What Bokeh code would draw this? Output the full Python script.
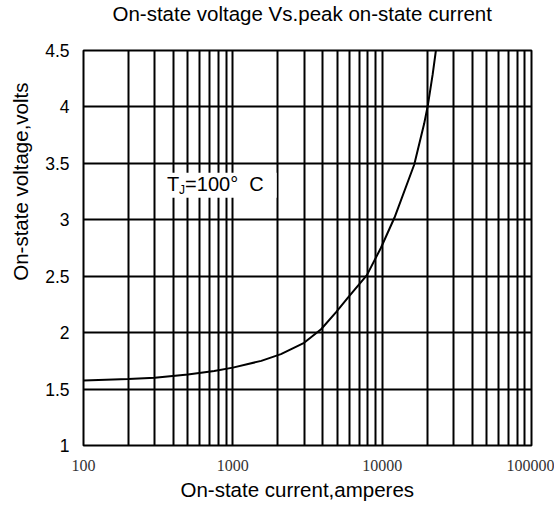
from bokeh.plotting import figure
from bokeh.models import FixedTicker, CustomJSTickFormatter, Label, BoxAnnotation, Range1d, Title
from bokeh.embed import file_html
from bokeh.resources import INLINE

# ---- data ----
current = [100, 200, 300, 500, 750, 1000, 1550, 2100, 3000, 3900, 4900, 5900,
           7900, 9800, 12100, 16400, 19100, 20200, 21800, 22900]
voltage = [1.575, 1.59, 1.60, 1.63, 1.66, 1.69, 1.75, 1.81, 1.91, 2.03, 2.18, 2.31,
           2.51, 2.75, 3.02, 3.49, 3.85, 4.01, 4.29, 4.5]

x_major = [100, 1000, 10000, 100000]
y_ticks = [1, 1.5, 2, 2.5, 3, 3.5, 4, 4.5]

title_text = "On-state voltage Vs.peak on-state current"
x_label = "On-state current,amperes"
y_label = "On-state voltage,volts"
note_main, note_sub, note_rest = "T", "J", "=100°\u00a0\u00a0C"

x_minor = [m * d for d in x_major[:-1] for m in range(2, 10)]

SANS = "Liberation Sans"
SERIF = "Liberation Serif"

p = figure(width=554, height=508, x_axis_type="log",
           x_range=Range1d(x_major[0], x_major[-1]), y_range=Range1d(y_ticks[0], y_ticks[-1]),
           output_backend="svg", toolbar_location=None,
           min_border_left=81, min_border_right=23, min_border_top=50, min_border_bottom=63)

p.background_fill_color = "white"
p.border_fill_color = "white"
p.outline_line_color = "black"
p.outline_line_width = 2

# spacer between the frame and the title (keeps the title near the top edge)
p.add_layout(Title(text="\u00a0", text_font_size="10px", standoff=11), "above")

# title
p.title.text = title_text
p.title.align = "left"
p.title.offset = 29
p.title.vertical_align = "top"
p.title.standoff = 0
p.title.text_font = SANS
p.title.text_font_style = "normal"
p.title.text_font_size = "20.5px"
p.title.text_color = "black"

# x axis
p.xaxis.ticker = FixedTicker(ticks=x_major, minor_ticks=x_minor)
p.xaxis.formatter = CustomJSTickFormatter(code="return String(tick)")
p.xaxis.major_label_text_font = SERIF
p.xaxis.major_label_text_font_size = "16px"
p.xaxis.major_label_text_color = "#333333"
p.xaxis.major_label_standoff = 10

# x-axis label (sits left of centre in the reference)
p.add_layout(Title(text=x_label, align="left", offset=97, vertical_align="top", standoff=8,
                   text_font=SANS, text_font_style="normal", text_font_size="20.5px",
                   text_color="black"), "below")

# y axis
p.yaxis.ticker = FixedTicker(ticks=y_ticks)
p.yaxis.formatter = CustomJSTickFormatter(code="return String(tick)")
p.yaxis.major_label_text_font = SANS
p.yaxis.major_label_text_font_size = "17.5px"
p.yaxis.major_label_text_color = "black"
p.yaxis.major_label_text_baseline = "alphabetic"
p.yaxis.major_label_standoff = 14

for ax in (p.xaxis, p.yaxis):
    ax.axis_line_color = None
    ax.major_tick_line_color = None
    ax.minor_tick_line_color = None
    ax.major_tick_out = 0
    ax.major_tick_in = 0

# y-axis label as a side title (sits above centre in the reference)
p.add_layout(Title(text=y_label, align="right", offset=32, vertical_align="top", standoff=17,
                   text_font=SANS, text_font_style="normal", text_font_size="20.5px",
                   text_color="black"), "left")

# grid
p.xgrid.ticker = FixedTicker(ticks=x_major, minor_ticks=x_minor)
p.xgrid.grid_line_color = "black"
p.xgrid.grid_line_width = 2
p.xgrid.minor_grid_line_color = "black"
p.xgrid.minor_grid_line_width = 2
p.ygrid.ticker = FixedTicker(ticks=y_ticks)
p.ygrid.grid_line_color = "black"
p.ygrid.grid_line_width = 2

# annotation box "TJ=100° C"
p.add_layout(BoxAnnotation(left=311, right=1965, bottom=3.195, top=3.416,
                           fill_color="white", fill_alpha=1.0, line_color=None, level="overlay"))

# curve
p.line(current, voltage, line_color="black", line_width=2)

p.add_layout(Label(x=363, y=3.305, y_offset=1, text=note_main, text_align="left", text_baseline="middle",
                   text_font=SANS, text_font_size="20px", text_color="black", level="overlay"))
p.add_layout(Label(x=363, y=3.305, x_offset=12, y_offset=-5, text=note_sub, text_align="left",
                   text_baseline="middle", text_font=SANS, text_font_size="12px",
                   text_color="black", level="overlay"))
p.add_layout(Label(x=363, y=3.305, x_offset=18, y_offset=1, text=note_rest, text_align="left",
                   text_baseline="middle", text_font=SANS, text_font_size="20px",
                   text_color="black", level="overlay"))

open("out.html", "w").write(file_html(p, INLINE))
